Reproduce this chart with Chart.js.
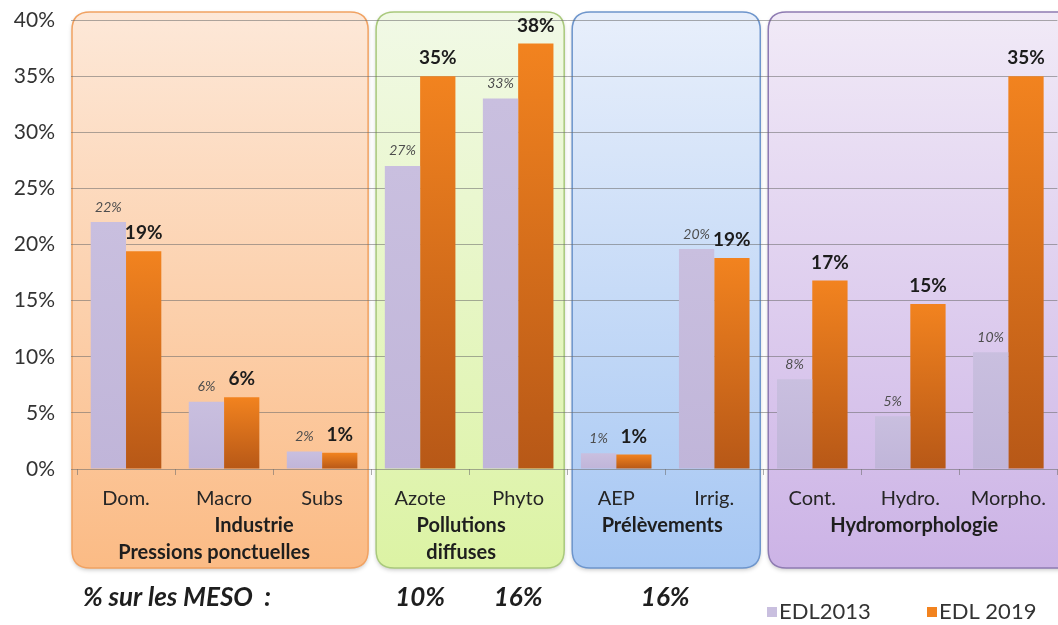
<!DOCTYPE html>
<html>
<head>
<meta charset="utf-8">
<script src="https://cdn.jsdelivr.net/npm/chart.js@4/dist/chart.umd.min.js"></script>
<style>
  html, body { margin: 0; padding: 0; background: #fff; }
  canvas { display: block; }
</style>
</head>
<body>
<canvas id="chart" width="1058" height="625"></canvas>
<script>
// ---- data ----
const categories = ['Dom.', 'Macro', 'Subs', 'Azote', 'Phyto', 'AEP', 'Irrig.', 'Cont.', 'Hydro.', 'Morpho.'];
const edl2013 = [22.0, 6.0, 1.55, 27.0, 33.0, 1.4, 19.6, 8.0, 4.7, 10.4];
const edl2019 = [19.4, 6.4, 1.45, 35.0, 37.9, 1.3, 18.8, 16.8, 14.7, 35.0];
const seriesNames = ['EDL2013', 'EDL 2019'];
const yTicks = [0, 5, 10, 15, 20, 25, 30, 35, 40];

const groupSizes = [3, 2, 2, 3];
const groupLines = [
  ['Industrie', 'Pressions ponctuelles'],
  ['Pollutions', 'diffuses'],
  ['Prélèvements'],
  ['Hydromorphologie']
];

const mesoCaption = '% sur les MESO  :';
const mesoValues = ['10%', '16%', '16%'];
const mesoAnchor = [3, 4, 5.5];   // category slot each share is written under

// ---- styling ----
const FONT = 'Lato, Carlito, "Open Sans", sans-serif';
const GRID = 'rgba(105,105,105,0.55)';
const groupStyles = [
  { top: '#fde8d8', bottom: '#fbbb85', border: '#f1a262' },
  { top: '#f1f9e6', bottom: '#dcf3a4', border: '#a9c97c' },
  { top: '#e8effb', bottom: '#a6c7f3', border: '#6d95cc' },
  { top: '#f1eaf7', bottom: '#ccb3e6', border: '#8e7bb2' }
];
const groupLineShift = [[30, -10], [-8, -8], [-3], [4]];
const barStops = [
  ['#c9bfdf', '#c0b5d9'],
  ['#f2831f', '#b75817']
];

function barFill(stops) {
  return (c) => {
    const chart = c.chart;
    const area = chart.chartArea;
    if (!area || c.type !== 'data' || !chart.scales.y) return stops[0];
    const top = chart.scales.y.getPixelForValue(c.raw);
    const g = chart.ctx.createLinearGradient(0, top, 0, area.bottom);
    g.addColorStop(0, stops[0]);
    g.addColorStop(1, stops[1]);
    return g;
  };
}

function slotEdge(chart, i) {
  const x = chart.scales.x;
  return x.left + i * (x.right - x.left) / categories.length;
}

function roundRect(ctx, x, y, w, h, r) {
  ctx.beginPath();
  ctx.moveTo(x + r, y);
  ctx.lineTo(x + w - r, y);
  ctx.quadraticCurveTo(x + w, y, x + w, y + r);
  ctx.lineTo(x + w, y + h - r);
  ctx.quadraticCurveTo(x + w, y + h, x + w - r, y + h);
  ctx.lineTo(x + r, y + h);
  ctx.quadraticCurveTo(x, y + h, x, y + h - r);
  ctx.lineTo(x, y + r);
  ctx.quadraticCurveTo(x, y, x + r, y);
  ctx.closePath();
}

// coloured rounded panels behind each family of pressures, plus the texts around the plot
const groupPanels = {
  id: 'groupPanels',
  beforeDraw(chart) {
    const ctx = chart.ctx;
    const area = chart.chartArea;
    const top = area.top - 8;
    const bottom = area.bottom + 99;
    let start = 0;
    groupSizes.forEach((size, g) => {
      const end = start + size;
      const left = slotEdge(chart, start) + (g === 0 ? -5 : 5);
      const right = g === groupSizes.length - 1 ? chart.width + 25 : slotEdge(chart, end) - 3;
      const st = groupStyles[g];
      ctx.save();
      const grad = ctx.createLinearGradient(0, top, 0, bottom);
      grad.addColorStop(0, st.top);
      grad.addColorStop(1, st.bottom);
      roundRect(ctx, left, top, right - left, bottom - top, 18);
      ctx.shadowColor = 'rgba(0,0,0,0.22)';
      ctx.shadowBlur = 4;
      ctx.shadowOffsetY = 2;
      ctx.fillStyle = grad;
      ctx.fill();
      ctx.shadowColor = 'transparent';
      ctx.lineWidth = 1.5;
      ctx.strokeStyle = st.border;
      ctx.stroke();
      ctx.restore();
      start = end;
    });
  },
  afterDraw(chart) {
    const ctx = chart.ctx;
    const area = chart.chartArea;
    const x = chart.scales.x;

    // value labels above the bars
    ctx.save();
    ctx.textAlign = 'center';
    ctx.textBaseline = 'middle';
    chart.data.datasets.forEach((ds, di) => {
      const meta = chart.getDatasetMeta(di);
      meta.data.forEach((bar, i) => {
        const txt = Math.round(ds.data[i]) + '%';
        if (di === 0) {
          ctx.font = 'italic 14px ' + FONT;
          ctx.fillStyle = '#4d4d4d';
          ctx.fillText(txt, bar.x, bar.y - 15);
        } else {
          ctx.font = 'bold 19px ' + FONT;
          ctx.fillStyle = '#1c1c1c';
          ctx.fillText(txt, bar.x, bar.y - 18);
        }
      });
    });

    // family names under the category labels
    ctx.font = 'bold 20px ' + FONT;
    ctx.fillStyle = '#1e1e1e';
    let start = 0;
    groupSizes.forEach((size, g) => {
      const cx = (x.getPixelForValue(start) + x.getPixelForValue(start + size - 1)) / 2;
      groupLines[g].forEach((line, k) => {
        ctx.fillText(line, cx + groupLineShift[g][k], area.bottom + 57 + k * 27);
      });
      start += size;
    });

    // share of groundwater bodies row
    const rowY = area.bottom + 129;
    ctx.font = 'bold italic 26px ' + FONT;
    ctx.textAlign = 'left';
    ctx.fillText(mesoCaption, 83, rowY);
    ctx.textAlign = 'center';
    mesoValues.forEach((v, i) => {
      const pos = mesoAnchor[i];
      const lo = Math.floor(pos), hi = Math.ceil(pos);
      const px = x.getPixelForValue(lo) + (x.getPixelForValue(hi) - x.getPixelForValue(lo)) * (pos - lo);
      ctx.fillText(v, px, rowY);
    });

    // legend
    ctx.font = '22px ' + FONT;
    ctx.textAlign = 'left';
    const legY = area.bottom + 143;
    const legX = [767, 927];
    chart.data.datasets.forEach((ds, di) => {
      ctx.fillStyle = barStops[di][0];
      ctx.fillRect(legX[di], legY - 5, 10, 10);
      ctx.fillStyle = '#333';
      ctx.fillText(ds.label, legX[di] + 12, legY);
    });
    ctx.restore();
  }
};

new Chart(document.getElementById('chart'), {
  type: 'bar',
  data: {
    labels: categories,
    datasets: [
      { label: seriesNames[0], data: edl2013, backgroundColor: barFill(barStops[0]) },
      { label: seriesNames[1], data: edl2019, backgroundColor: barFill(barStops[1]) }
    ]
  },
  options: {
    responsive: false,
    animation: false,
    layout: { padding: { top: 20, left: 0, right: 0, bottom: 0 } },
    datasets: { bar: { barPercentage: 1.0, categoryPercentage: 0.72, borderWidth: 0 } },
    plugins: {
      legend: { display: false },
      tooltip: { enabled: false }
    },
    scales: {
      x: {
        offset: true,
        grid: { offset: true, drawOnChartArea: false, drawTicks: true, tickLength: 6, color: GRID },
        border: { display: false },
        ticks: { font: { family: FONT, size: 20 }, color: '#262626', padding: 12, maxRotation: 0, autoSkip: false },
        afterFit: (s) => { s.height = 156; }
      },
      y: {
        min: 0,
        max: 40,
        afterBuildTicks: (s) => { s.ticks = yTicks.map(v => ({ value: v })); },
        grid: { color: GRID, drawTicks: true, tickLength: 6 },
        border: { display: false },
        ticks: {
          font: { family: FONT, size: 21 },
          color: '#333',
          padding: 16,
          callback: (v) => v + '%'
        },
        afterFit: (s) => { s.width = 77; s.paddingTop = 0; s.paddingBottom = 0; }
      }
    }
  },
  plugins: [groupPanels]
});
</script>
</body>
</html>
